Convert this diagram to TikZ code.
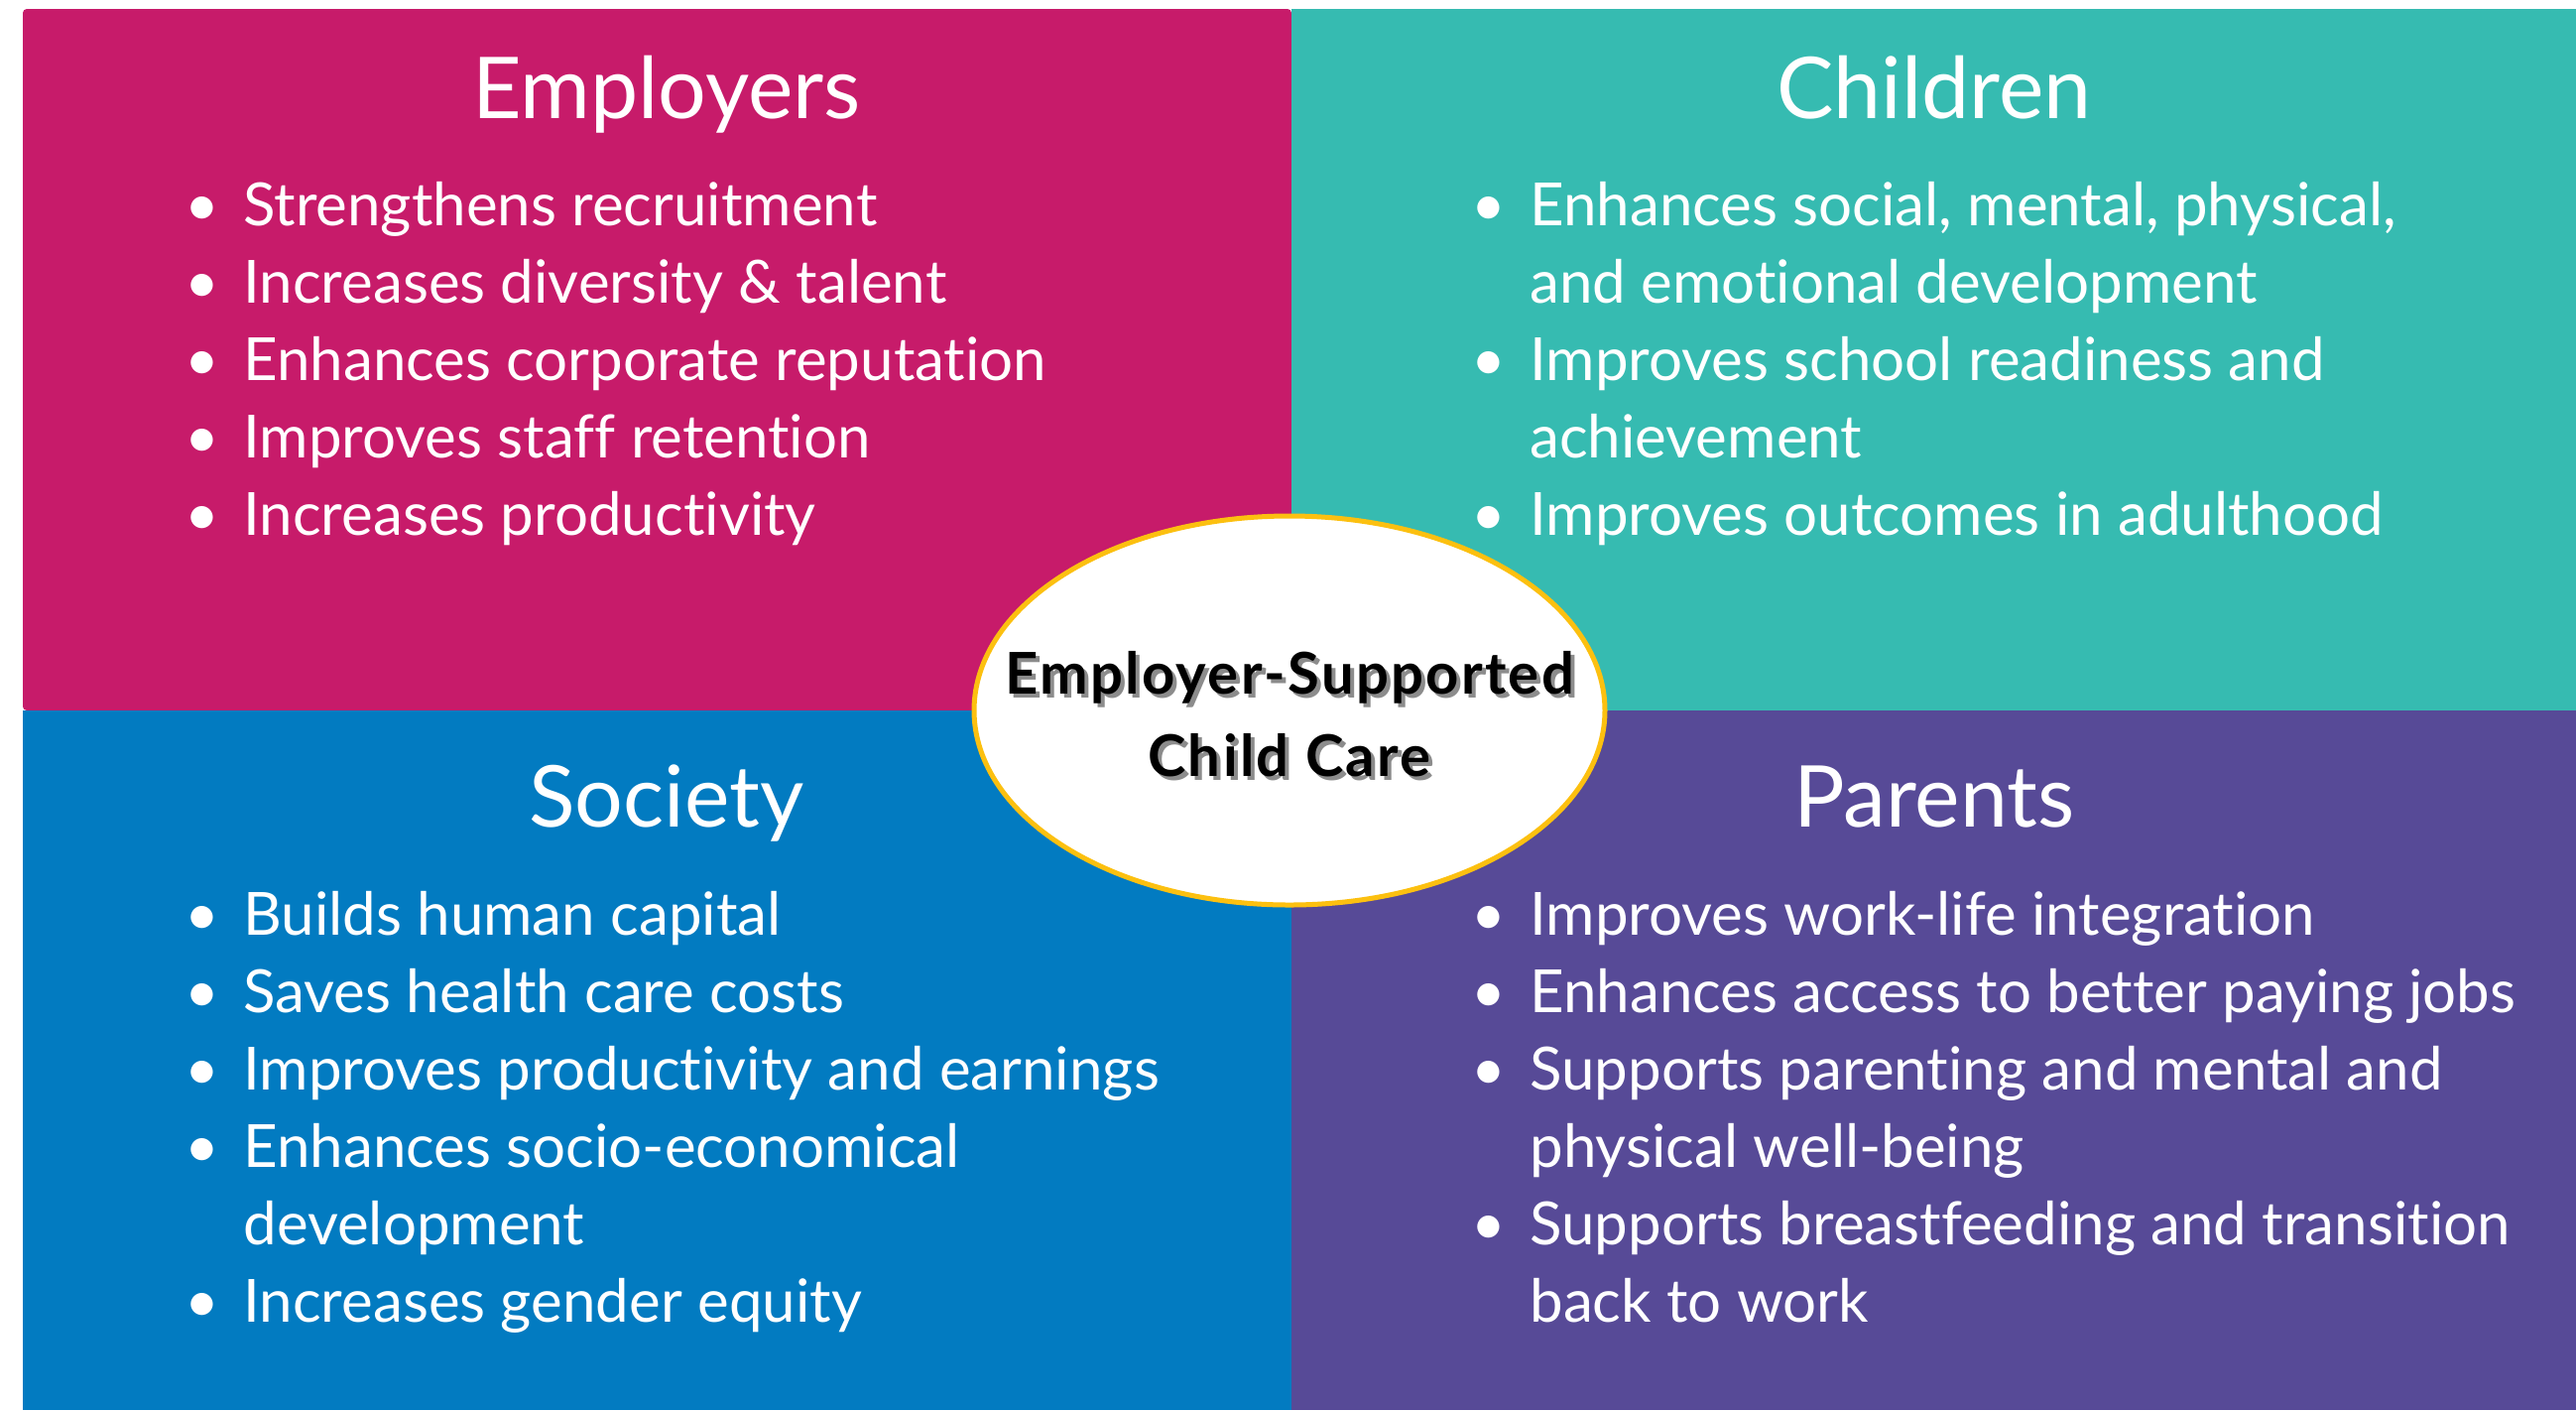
\documentclass[tikz,border=0pt]{standalone}
\usepackage{fontspec}
\setmainfont{Lato}[Ligatures=NoCommon]
\usetikzlibrary{shapes.geometric}

\definecolor{empcol}{HTML}{C71B6A}
\definecolor{chicol}{HTML}{36BBB1}
\definecolor{soccol}{HTML}{027BC1}
\definecolor{parcol}{HTML}{574A97}
\definecolor{rimcol}{HTML}{FCC010}

\tikzset{
  head/.style={text=white, anchor=base, inner sep=0pt, font=\fontsize{43}{48}\selectfont},
  item/.style={text=white, anchor=base west, inner sep=0pt, font=\fontsize{30}{34}\selectfont},
  hubtext/.style={align=center, inner sep=0pt,
      font=\bfseries\fontsize{29}{41.5}\selectfont\addfontfeature{LetterSpace=4}},
}

% bullet in front of a line, or none for a follow-on line
\newcommand{\blt}[1]{\ifnum#1=1 \makebox[0pt][r]{\textbullet\hspace{12pt}}\fi}

\begin{document}
\begin{tikzpicture}[x=0.5pt,y=-0.5pt]
    \useasboundingbox (0,0) rectangle (2597,1421);
    \fill[white] (0,0) rectangle (2597,1421);

        % the four quarters
    \fill[empcol, rounded corners=2pt] (23,716) |- (1302,9) -- (1302,716) -- cycle;
    \fill[chicol] (1302,9)   rectangle (2597,716);
    \fill[soccol] (23,716)   rectangle (1302,1421);
    \fill[parcol] (1302,716) rectangle (2597,1421);

    \node[head] (employers) at (672,119)  {Employers};
    \node[head] (children)  at (1950,119) {Children};
    \node[head] (society)   at (672,833)  {Society};
    \node[head] (parents)   at (1950,833) {Parents};

        % employers
    \foreach \b/\t [count=\i] in {1/Strengthens recruitment, 1/Increases diversity \& talent,
            1/Enhances corporate reputation, 1/Improves staff retention, 1/Increases productivity}
        \node[item] (emp\i) at (245,{227+78*(\i-1)}) {\blt{\b}\t};

        % children
    \foreach \b/\t [count=\i] in {1/{Enhances social, mental, physical,}, 0/and emotional development,
            1/Improves school readiness and, 0/achievement, 1/Improves outcomes in adulthood}
        \node[item] (chi\i) at (1542,{227+78*(\i-1)}) {\blt{\b}\t};

        % society
    \foreach \b/\t [count=\i] in {1/Builds human capital, 1/Saves health care costs,
            1/Improves productivity and earnings, 1/Enhances socio-economical, 0/development,
            1/Increases gender equity}
        \node[item] (soc\i) at (245,{942+78*(\i-1)}) {\blt{\b}\t};

        % parents
    \foreach \b/\t [count=\i] in {1/Improves work-life integration, 1/Enhances access to better paying jobs,
            1/Supports parenting and mental and, 0/physical well-being,
            1/Supports breastfeeding and transition, 0/back to work}
        \node[item] (par\i) at (1542,{942+78*(\i-1)}) {\blt{\b}\t};

        % centre
    \node[ellipse, fill=white, draw=rimcol, line width=2.5pt,
          minimum width=318pt, minimum height=196pt] (hub) at (1300,716) {};
    \node[hubtext, text=black!45] (hubshadow) at (1304,724) {Employer-Supported\\Child Care};
    \node[hubtext, text=black]    (hublabel)  at (1300,720) {Employer-Supported\\Child Care};
\end{tikzpicture}
\end{document}
